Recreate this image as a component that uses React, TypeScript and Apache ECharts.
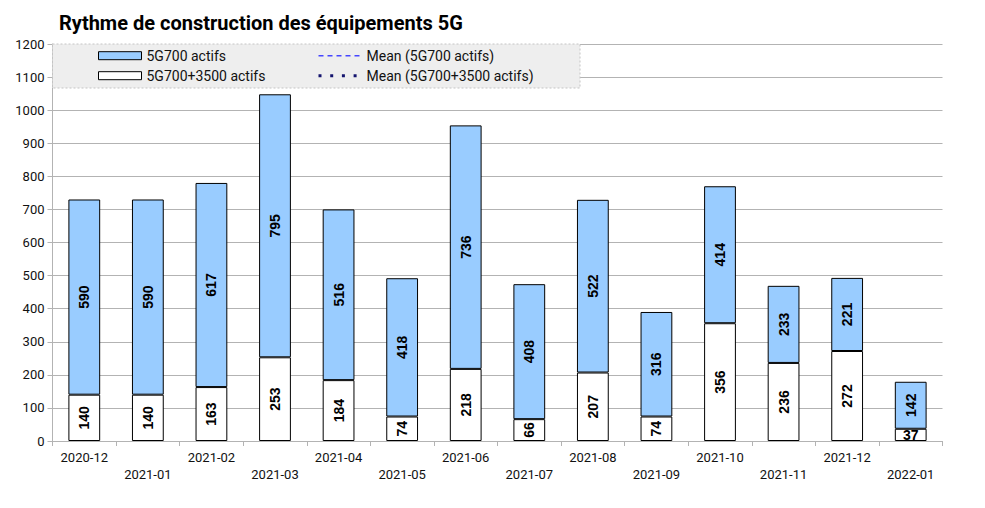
import React, { useEffect, useRef } from "react";
import * as echarts from "echarts";

const categories = [
  "2020-12", "2021-01", "2021-02", "2021-03", "2021-04", "2021-05", "2021-06",
  "2021-07", "2021-08", "2021-09", "2021-10", "2021-11", "2021-12", "2022-01",
];
const both = [140, 140, 163, 253, 184, 74, 218, 66, 207, 74, 356, 236, 272, 37];
const g700 = [590, 590, 617, 795, 516, 418, 736, 408, 522, 316, 414, 233, 221, 142];

const FONT = "Roboto";
const LABEL_FONT = "Liberation Sans";
const GRID = "#b3b3b3";
const MEAN1 = "#4646ff";
const MEAN2 = "#14146e";

function withLabels(values: number[]) {
  return values.map((v) => (v < 50 ? { value: v, label: { rotate: 0 } } : v));
}

export default function App() {
  const ref = useRef<HTMLDivElement>(null);
  useEffect(() => {
    document.body.style.margin = "0";
    const chart = echarts.init(ref.current!, null, { renderer: "svg" });
    const barLabel = {
      show: true,
      position: "inside",
      rotate: 90,
      fontFamily: LABEL_FONT,
      fontSize: 14,
      fontWeight: "bold",
      color: "#000",
    };
    const legendText = { fontFamily: FONT, fontSize: 14, color: "#111", lineHeight: 16 };
    chart.setOption({
      animation: false,
      textStyle: { fontFamily: FONT },
      title: {
        text: "Rythme de construction des équipements 5G",
        left: 54,
        top: 8,
        textStyle: { fontFamily: FONT, fontSize: 20, fontWeight: "bold", color: "#000" },
      },
      graphic: {
        elements: [
          {
            type: "rect",
            z: 5,
            shape: { x: 52.5, y: 44, width: 527.5, height: 44 },
            style: { fill: "#eeeeee", stroke: "#c4c4c4", lineWidth: 1, lineDash: [2, 2] },
          },
        ],
      },
      legend: [
        {
          z: 10,
          orient: "vertical",
          left: 98,
          top: 47.7,
          padding: 0,
          itemWidth: 43,
          itemHeight: 8,
          itemGap: 4,
          icon: "rect",
          itemStyle: { borderColor: "#000", borderWidth: 1 },
          textStyle: legendText,
          data: ["5G700 actifs", "5G700+3500 actifs"],
        },
        {
          z: 10,
          orient: "vertical",
          left: 317,
          top: 47.7,
          padding: 0,
          itemWidth: 43,
          itemHeight: 8,
          itemGap: 4,
          textStyle: legendText,
          data: [
            {
              name: "Mean (5G700 actifs)",
              itemStyle: { opacity: 0 },
              lineStyle: { color: MEAN1, width: 1.5, type: [5, 4] },
            },
            {
              name: "Mean (5G700+3500 actifs)",
              itemStyle: { opacity: 0 },
              lineStyle: { color: MEAN2, width: 3, type: [3, 8.7] },
            },
          ],
        },
      ],
      grid: { left: 52.5, right: 42.5, top: 44, bottom: 67 },
      xAxis: {
        type: "category",
        data: categories,
        axisLine: { lineStyle: { color: GRID } },
        axisTick: { show: true, length: 5, lineStyle: { color: GRID } },
        axisLabel: {
          interval: 0,
          margin: 8,
          fontFamily: FONT,
          fontSize: 13,
          color: "#111",
          lineHeight: 17,
          formatter: (v: string, i: number) => (i % 2 ? "\n" + v : v),
        },
      },
      yAxis: {
        type: "value",
        min: 0,
        max: 1200,
        interval: 100,
        axisLine: { show: true, lineStyle: { color: GRID } },
        axisTick: { show: true, length: 5, lineStyle: { color: GRID } },
        axisLabel: {
          margin: 8,
          fontFamily: FONT,
          fontSize: 13,
          color: "#111",
          formatter: (v: number) => String(v),
        },
        splitLine: { lineStyle: { color: GRID } },
      },
      series: [
        {
          name: "5G700+3500 actifs",
          type: "bar",
          stack: "total",
          barWidth: "50%",
          data: withLabels(both),
          itemStyle: { color: "#ffffff", borderColor: "#000", borderWidth: 1 },
          label: barLabel,
        },
        {
          name: "5G700 actifs",
          type: "bar",
          stack: "total",
          barWidth: "50%",
          data: withLabels(g700),
          itemStyle: { color: "#99ccff", borderColor: "#000", borderWidth: 1 },
          label: barLabel,
        },
        {
          name: "Mean (5G700 actifs)",
          type: "line",
          data: [],
          symbol: "none",
          itemStyle: { color: "rgba(0,0,0,0)", opacity: 0 },
          lineStyle: { color: MEAN1, type: [5, 4], width: 1.5 },
        },
        {
          name: "Mean (5G700+3500 actifs)",
          type: "line",
          data: [],
          symbol: "none",
          itemStyle: { color: "rgba(0,0,0,0)", opacity: 0 },
          lineStyle: { color: MEAN2, type: [3, 8.7], width: 3 },
        },
      ],
    });
    return () => chart.dispose();
  }, []);
  return <div ref={ref} style={{ width: 985, height: 508 }} />;
}
